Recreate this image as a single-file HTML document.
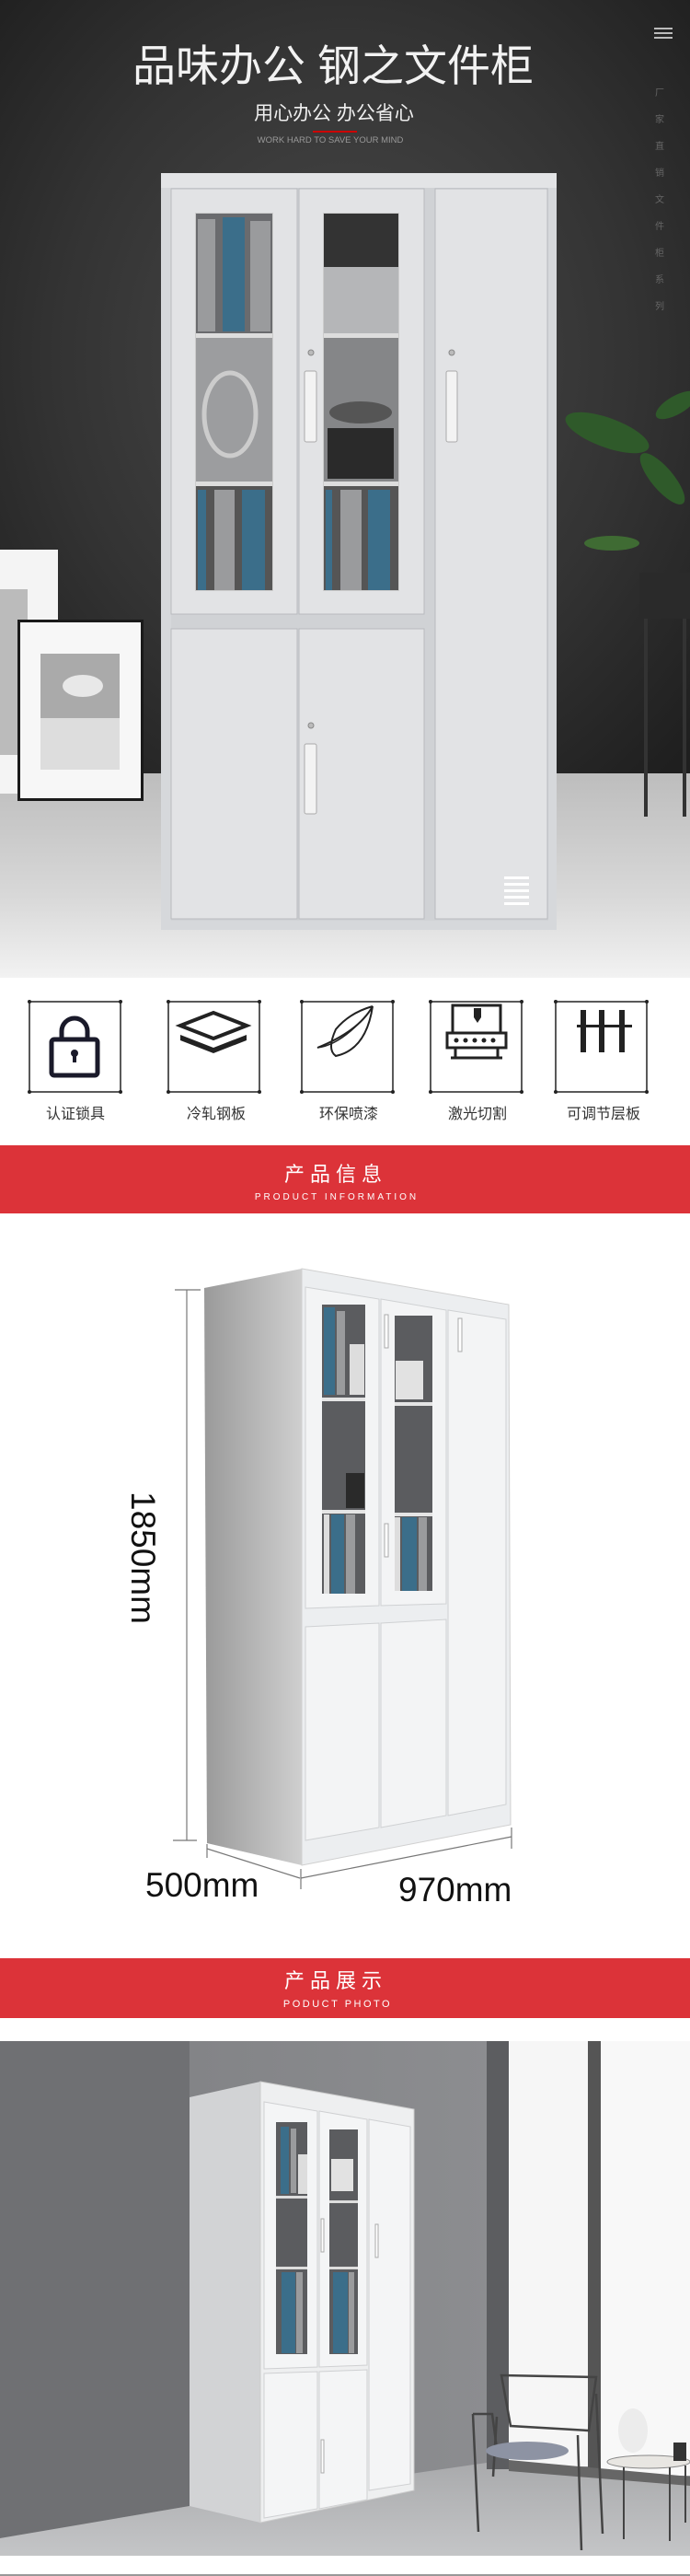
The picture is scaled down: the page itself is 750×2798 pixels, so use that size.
<!DOCTYPE html>
<html><head><meta charset="utf-8"><style>
html,body{margin:0;padding:0;background:#fff;}
svg{display:block;}
text{font-family:"Liberation Sans","Noto Sans CJK SC",sans-serif;}
</style></head><body>
<svg width="750" height="2798" viewBox="0 0 750 2798" xmlns="http://www.w3.org/2000/svg">
<defs>
<radialGradient id="wall" cx="0.5" cy="0.45" r="0.7">
<stop offset="0" stop-color="#4a4a4a"/><stop offset="0.6" stop-color="#333"/><stop offset="1" stop-color="#1f1f1f"/></radialGradient>
<linearGradient id="floor" x1="0" y1="0" x2="0" y2="1">
<stop offset="0" stop-color="#bdbdbd"/><stop offset="0.6" stop-color="#d8d8d8"/><stop offset="1" stop-color="#f2f2f2"/></linearGradient>
<linearGradient id="side" x1="0" y1="0" x2="1" y2="0">
<stop offset="0" stop-color="#9a9a9a"/><stop offset="1" stop-color="#cfcfcf"/></linearGradient>
<linearGradient id="wall2" x1="0" y1="0" x2="1" y2="0">
<stop offset="0" stop-color="#7d7e81"/><stop offset="1" stop-color="#929396"/></linearGradient>
<linearGradient id="floor2" x1="0" y1="0" x2="0" y2="1">
<stop offset="0" stop-color="#a9aaac"/><stop offset="1" stop-color="#c4c5c7"/></linearGradient>
</defs>

<!-- TOP HERO -->
<rect x="0" y="0" width="750" height="860" fill="url(#wall)"/>
<rect x="0" y="840" width="750" height="222" fill="url(#floor)"/>
<text x="362" y="88" font-size="47" fill="#f2f2f2" text-anchor="middle">品味办公 钢之文件柜</text>
<text x="363" y="130" font-size="21" fill="#eee" text-anchor="middle">用心办公 办公省心</text>
<rect x="340" y="142" width="48" height="2" fill="#c00"/>
<text x="359" y="155" font-size="9.5" fill="#999" text-anchor="middle">WORK HARD TO SAVE YOUR MIND</text>
<g fill="#bbb"><rect x="711" y="30" width="20" height="2"/><rect x="711" y="35" width="20" height="2"/><rect x="711" y="40" width="20" height="2"/></g>
<text font-size="10" fill="#666" x="715" y="95" writing-mode="tb" letter-spacing="19">厂家直销文件柜系列</text>

<!-- frames -->
<rect x="0" y="597" width="63" height="265" fill="#f4f4f4"/>
<rect x="0" y="640" width="30" height="180" fill="#bbb"/>
<rect x="19" y="673" width="137" height="197" fill="#1a1a1a"/>
<rect x="22" y="676" width="131" height="191" fill="#f7f7f7"/>
<rect x="44" y="710" width="86" height="126" fill="#aaa"/>
<rect x="44" y="780" width="86" height="56" fill="#ddd"/>
<ellipse cx="90" cy="745" rx="22" ry="12" fill="#e8e8e8"/>
<!-- plant -->
<g fill="#2f5a2a">
<ellipse cx="660" cy="470" rx="48" ry="16" transform="rotate(20 660 470)"/>
<ellipse cx="720" cy="520" rx="35" ry="12" transform="rotate(50 720 520)"/>
<ellipse cx="665" cy="590" rx="30" ry="8" fill="#3f6b33"/>
<ellipse cx="735" cy="440" rx="25" ry="10" transform="rotate(-30 735 440)"/>
</g>
<rect x="695" y="622" width="55" height="50" fill="#2a2a2a"/>
<rect x="700" y="672" width="4" height="215" fill="#333"/>
<rect x="742" y="672" width="4" height="215" fill="#333"/>

<!-- hero cabinet -->
<rect x="175" y="188" width="430" height="822" fill="#d6d8db"/>
<rect x="175" y="188" width="430" height="16" fill="#e3e4e6"/>
<rect x="186" y="204" width="410" height="796" fill="#d0d2d5"/>
<g fill="#e2e3e5" stroke="#b9bbbe" stroke-width="1">
<rect x="186" y="205" width="137" height="462"/>
<rect x="325" y="205" width="136" height="462"/>
<rect x="473" y="205" width="122" height="793"/>
<rect x="186" y="683" width="137" height="315"/>
<rect x="325" y="683" width="136" height="315"/>
</g>
<!-- glass left -->
<rect x="213" y="232" width="83" height="409" fill="#8e8f91" stroke="#ccc" stroke-width="2"/>
<rect x="213" y="232" width="83" height="130" fill="#6a6b6e"/>
<rect x="215" y="238" width="19" height="122" fill="#9a9b9d"/><rect x="242" y="236" width="24" height="124" fill="#3b6e8a"/><rect x="272" y="240" width="22" height="120" fill="#9a9b9d"/>
<rect x="213" y="362" width="83" height="5" fill="#ddd"/>
<rect x="213" y="367" width="83" height="156" fill="#9c9d9f"/>
<ellipse cx="250" cy="450" rx="28" ry="45" fill="none" stroke="#ccc" stroke-width="5"/>
<rect x="213" y="523" width="83" height="5" fill="#ddd"/>
<rect x="213" y="528" width="83" height="113" fill="#555"/>
<rect x="215" y="532" width="9" height="109" fill="#3b6e8a"/><rect x="233" y="532" width="22" height="109" fill="#9a9b9d"/><rect x="263" y="532" width="25" height="109" fill="#3b6e8a"/>
<!-- glass middle -->
<rect x="352" y="232" width="81" height="409" fill="#8e8f91" stroke="#ccc" stroke-width="2"/>
<rect x="352" y="232" width="81" height="60" fill="#333"/>
<rect x="352" y="290" width="81" height="72" fill="#b5b6b8"/>
<rect x="352" y="362" width="81" height="5" fill="#ddd"/>
<rect x="352" y="367" width="81" height="156" fill="#858688"/>
<rect x="356" y="465" width="72" height="55" fill="#2a2a2a"/>
<ellipse cx="392" cy="448" rx="34" ry="12" fill="#555"/>
<rect x="352" y="523" width="81" height="5" fill="#ddd"/>
<rect x="352" y="528" width="81" height="113" fill="#555"/>
<rect x="354" y="532" width="7" height="109" fill="#3b6e8a"/><rect x="370" y="532" width="23" height="109" fill="#9a9b9d"/><rect x="400" y="532" width="24" height="109" fill="#3b6e8a"/>
<!-- handles -->
<g fill="#f3f3f3" stroke="#aaa"><rect x="331" y="403" width="13" height="77" rx="2"/><rect x="485" y="403" width="12" height="77" rx="2"/><rect x="331" y="808" width="13" height="76" rx="2"/></g>
<g fill="#bbb" stroke="#888"><circle cx="338" cy="383" r="3"/><circle cx="491" cy="383" r="3"/><circle cx="338" cy="788" r="3"/></g>
<g fill="#fff"><rect x="548" y="952" width="27" height="3"/><rect x="548" y="959" width="27" height="3"/><rect x="548" y="966" width="27" height="3"/><rect x="548" y="973" width="27" height="3"/><rect x="548" y="980" width="27" height="3"/></g>

<!-- ICONS -->
<g fill="none" stroke="#222" stroke-width="1.5">
<rect x="32" y="1088" width="99" height="98"/>
<rect x="183" y="1088" width="99" height="98"/>
<rect x="328" y="1088" width="99" height="98"/>
<rect x="468" y="1088" width="99" height="98"/>
<rect x="604" y="1088" width="99" height="98"/>
</g>
<g fill="#222">
<circle cx="32" cy="1088" r="2"/><circle cx="131" cy="1088" r="2"/><circle cx="32" cy="1186" r="2"/><circle cx="131" cy="1186" r="2"/>
<circle cx="183" cy="1088" r="2"/><circle cx="282" cy="1088" r="2"/><circle cx="183" cy="1186" r="2"/><circle cx="282" cy="1186" r="2"/>
<circle cx="328" cy="1088" r="2"/><circle cx="427" cy="1088" r="2"/><circle cx="328" cy="1186" r="2"/><circle cx="427" cy="1186" r="2"/>
<circle cx="468" cy="1088" r="2"/><circle cx="567" cy="1088" r="2"/><circle cx="468" cy="1186" r="2"/><circle cx="567" cy="1186" r="2"/>
<circle cx="604" cy="1088" r="2"/><circle cx="703" cy="1088" r="2"/><circle cx="604" cy="1186" r="2"/><circle cx="703" cy="1186" r="2"/>
</g>
<!-- lock -->
<path d="M67 1130 v-10 a14 14 0 0 1 28 0 v10" fill="none" stroke="#1a1a2a" stroke-width="5"/>
<rect x="56" y="1129" width="50" height="39" rx="3" fill="none" stroke="#1a1a2a" stroke-width="5"/>
<circle cx="81" cy="1144" r="4" fill="#1a1a2a"/><rect x="79" y="1144" width="4" height="10" fill="#1a1a2a"/>
<!-- layers -->
<path d="M196 1114 L232 1100 L268 1114 L232 1128Z" fill="none" stroke="#222" stroke-width="4"/>
<path d="M196 1124 L232 1138 L268 1124 L268 1130 L232 1144 L196 1130Z" fill="#222"/>
<!-- leaf -->
<path d="M345 1138 Q390 1120 405 1093 Q398 1140 365 1147 Q355 1140 365 1118 Q380 1100 405 1093" fill="none" stroke="#222" stroke-width="2"/>
<path d="M345 1138 Q370 1135 398 1103" fill="none" stroke="#222" stroke-width="1.5"/>
<!-- laser machine -->
<g fill="none" stroke="#222" stroke-width="3">
<rect x="492" y="1092" width="52" height="30"/><rect x="486" y="1122" width="64" height="16"/><path d="M495 1138v10M541 1138v10M490 1149h56"/>
</g>
<path d="M515 1095h8v10l-4 6-4-6z" fill="#222"/>
<g fill="#222"><circle cx="496" cy="1130" r="2.5"/><circle cx="506" cy="1130" r="2.5"/><circle cx="516" cy="1130" r="2.5"/><circle cx="526" cy="1130" r="2.5"/><circle cx="536" cy="1130" r="2.5"/></g>
<!-- adjust -->
<g fill="#222"><rect x="631" y="1097" width="6" height="46"/><rect x="651" y="1097" width="6" height="46"/><rect x="673" y="1097" width="6" height="46"/><rect x="627" y="1113" width="60" height="3"/></g>
<g font-size="16" fill="#333" text-anchor="middle">
<text x="82" y="1215">认证锁具</text><text x="235" y="1215">冷轧钢板</text><text x="379" y="1215">环保喷漆</text><text x="519" y="1215">激光切割</text><text x="656" y="1215">可调节层板</text>
</g>

<!-- RED BAND 1 -->
<rect x="0" y="1244" width="750" height="74" fill="#dc3339"/>
<text x="365" y="1283" font-size="22" fill="#fff" text-anchor="middle" letter-spacing="6">产品信息</text>
<text x="366" y="1303" font-size="10" fill="#fff" text-anchor="middle" letter-spacing="3">PRODUCT INFORMATION</text>

<!-- DIMENSION DIAGRAM -->
<polygon points="222,1399 328,1378 328,2026 225,2002" fill="url(#side)"/>
<polygon points="328,1378 553,1417 555,1982 328,2026" fill="#eceef0" stroke="#d0d0d0"/>
<g fill="#f3f4f5" stroke="#cfd1d3" stroke-width="1">
<polygon points="332,1398 412,1411 412,1744 332,1747"/>
<polygon points="414,1411 485,1423 485,1742 414,1744"/>
<polygon points="487,1423 550,1433 550,1960 487,1972"/>
<polygon points="332,1767 412,1763 412,1985 332,1999"/>
<polygon points="414,1763 485,1759 485,1972 414,1985"/>
</g>
<rect x="350" y="1417" width="47" height="314" fill="#5b5c5f"/>
<rect x="350" y="1518" width="47" height="4" fill="#e5e5e5"/><rect x="350" y="1640" width="47" height="4" fill="#e5e5e5"/>
<rect x="352" y="1420" width="12" height="95" fill="#3b6e8a"/><rect x="366" y="1424" width="9" height="91" fill="#9a9b9d"/><rect x="380" y="1460" width="16" height="55" fill="#ddd"/>
<rect x="352" y="1645" width="6" height="86" fill="#ddd"/><rect x="360" y="1645" width="14" height="86" fill="#3b6e8a"/><rect x="376" y="1645" width="10" height="86" fill="#9a9b9d"/>
<rect x="376" y="1600" width="20" height="38" fill="#2a2a2a"/>
<rect x="429" y="1429" width="41" height="299" fill="#5b5c5f"/>
<rect x="429" y="1523" width="41" height="4" fill="#e5e5e5"/><rect x="429" y="1643" width="41" height="4" fill="#e5e5e5"/>
<rect x="430" y="1478" width="30" height="42" fill="#e2e2e2"/>
<rect x="429" y="1648" width="6" height="80" fill="#ddd"/><rect x="437" y="1648" width="16" height="80" fill="#3b6e8a"/><rect x="455" y="1648" width="9" height="80" fill="#9a9b9d"/>
<g fill="#fff" stroke="#aaa"><rect x="418" y="1428" width="4" height="36"/><rect x="498" y="1432" width="4" height="36"/><rect x="418" y="1655" width="4" height="36"/></g>
<!-- dims -->
<g stroke="#777" stroke-width="1.2" fill="none">
<path d="M203 1401 V1999"/><path d="M190 1401 H218"/><path d="M188 1999 H214"/>
<path d="M225 2008 L326 2040"/><path d="M225 2003 V2018"/><path d="M327 2030 V2052"/>
<path d="M327 2040 L556 1995"/><path d="M556 1985 V2008"/>
</g>
<text x="0" y="0" font-size="37" fill="#111" transform="translate(143,1620) rotate(90)">1850mm</text>
<text x="158" y="2060" font-size="37" fill="#111">500mm</text>
<text x="433" y="2065" font-size="37" fill="#111">970mm</text>

<!-- RED BAND 2 -->
<rect x="0" y="2127" width="750" height="65" fill="#dc3339"/>
<text x="365" y="2159" font-size="22" fill="#fff" text-anchor="middle" letter-spacing="6">产品展示</text>
<text x="367" y="2180" font-size="11" fill="#fff" text-anchor="middle" letter-spacing="2.5">PODUCT  PHOTO</text>

<!-- PHOTO -->
<rect x="0" y="2217" width="750" height="559" fill="url(#wall2)"/>
<polygon points="0,2217 206,2217 206,2722 0,2757" fill="#6f7073"/>
<polygon points="0,2757 206,2722 529,2675 750,2690 750,2776 0,2776" fill="url(#floor2)"/>
<rect x="529" y="2217" width="24" height="465" fill="#5c5d60"/>
<rect x="553" y="2217" width="86" height="462" fill="#f6f6f6"/>
<rect x="639" y="2217" width="14" height="470" fill="#555"/>
<rect x="653" y="2217" width="97" height="472" fill="#f8f8f8"/>
<polygon points="553,2672 750,2690 750,2700 553,2684" fill="#666"/>
<!-- cabinet -->
<polygon points="206,2278 283,2261 283,2740 206,2722" fill="#d2d3d5"/>
<polygon points="283,2261 450,2291 450,2705 283,2740" fill="#eeeff0" stroke="#ccc"/>
<g fill="#f4f5f6" stroke="#cfd0d2">
<polygon points="287,2283 345,2293 345,2571 287,2573"/>
<polygon points="347,2293 399,2302 399,2569 347,2571"/>
<polygon points="401,2302 446,2310 446,2698 401,2705"/>
<polygon points="287,2578 345,2576 345,2725 287,2735"/>
<polygon points="347,2576 399,2574 399,2715 347,2725"/>
</g>
<rect x="300" y="2305" width="34" height="252" fill="#5b5c5f"/>
<rect x="358" y="2313" width="31" height="244" fill="#5b5c5f"/>
<rect x="300" y="2385" width="34" height="3" fill="#ddd"/><rect x="358" y="2390" width="31" height="3" fill="#ddd"/>
<rect x="300" y="2462" width="34" height="3" fill="#ddd"/><rect x="358" y="2462" width="31" height="3" fill="#ddd"/>
<rect x="305" y="2310" width="9" height="73" fill="#3b6e8a"/><rect x="316" y="2312" width="6" height="70" fill="#9a9b9d"/><rect x="324" y="2340" width="10" height="43" fill="#ddd"/>
<rect x="360" y="2345" width="24" height="35" fill="#e2e2e2"/>
<rect x="306" y="2468" width="15" height="88" fill="#3b6e8a"/><rect x="322" y="2468" width="7" height="88" fill="#9a9b9d"/>
<rect x="362" y="2468" width="16" height="88" fill="#3b6e8a"/><rect x="379" y="2468" width="6" height="88" fill="#9a9b9d"/>
<g fill="#fff" stroke="#aaa"><rect x="349" y="2410" width="3" height="36"/><rect x="408" y="2416" width="3" height="36"/><rect x="349" y="2650" width="3" height="36"/></g>
<!-- chair -->
<g fill="none" stroke="#444" stroke-width="2.5">
<path d="M545 2580 L555 2635 L640 2640 L648 2582Z"/>
<path d="M514 2622 L520 2750 M540 2625 L536 2690 M628 2645 L632 2770 M648 2600 L655 2752"/>
<path d="M514 2622 L535 2622 L540 2660"/>
</g>
<ellipse cx="573" cy="2662" rx="45" ry="10" fill="#8d93a3"/>
<!-- table -->
<ellipse cx="705" cy="2674" rx="45" ry="7" fill="#e8e6e2" stroke="#888"/>
<g stroke="#444" stroke-width="2"><path d="M678 2680 V2758 M728 2680 V2760 M745 2678 V2740"/></g>
<ellipse cx="688" cy="2640" rx="16" ry="24" fill="#e7e7e7" opacity="0.7"/>
<rect x="732" y="2653" width="14" height="20" fill="#333"/>
<rect x="0" y="2796" width="750" height="2" fill="#999"/>
</svg>
</body></html>
